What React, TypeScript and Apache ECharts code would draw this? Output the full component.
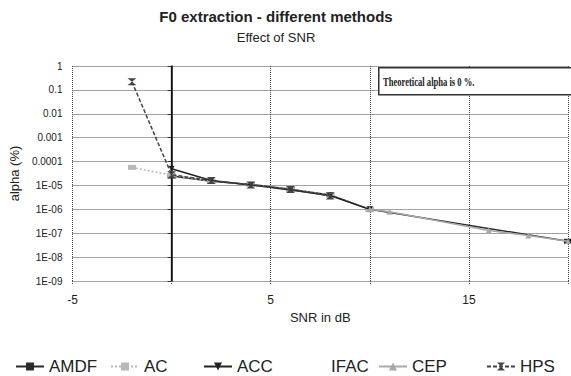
import React, { useEffect, useRef } from "react";
import * as echarts from "echarts";

const titleText = "F0 extraction - different methods";
const subtitleText = "Effect of SNR";
const xAxisName = "SNR in dB";
const yAxisName = "alpha (%)";
const noteText = "Theoretical alpha is 0 %.";

const seriesNames = ["AMDF", "AC", "ACC", "IFAC", "CEP", "HPS"];

const amdfSnr = [0, 2, 4, 6, 8, 10, 20];
const amdfAlpha = [2.5e-5, 1.5e-5, 1.1e-5, 7e-6, 4e-6, 1e-6, 4.6e-8];
const acSnr = [-2, 0, 2, 4, 6, 8, 10];
const acAlpha = [5.7e-5, 2.7e-5, 1.5e-5, 1.1e-5, 7e-6, 4e-6, 1e-6];
const accSnr = [0, 2, 4, 6, 8, 10];
const accAlpha = [5e-5, 1.6e-5, 1.05e-5, 6.5e-6, 3.8e-6, 1e-6];
const ifacSnr: number[] = [];
const ifacAlpha: number[] = [];
const cepSnr = [10, 11, 16, 18, 20];
const cepAlpha = [1e-6, 8e-7, 1.3e-7, 8e-8, 4.6e-8];
const hpsSnr = [-2, 0, 2, 4, 6, 8];
const hpsAlpha = [0.22, 2.8e-5, 1.6e-5, 1.05e-5, 6.8e-6, 3.6e-6];

const xTickLabels: Record<string, string> = { "-5": "-5", "5": "5", "15": "15" };
const yTickLabels = ["1E-09", "1E-08", "1E-07", "1E-06", "1E-05", "0.0001", "0.001", "0.01", "0.1", "1"];

const legendLefts = [15, 110, 203, 298, 378, 486];

const FONT = "'Liberation Sans', Arial, sans-serif";

function pairs(xs: number[], ys: number[]) {
  return xs.map((x, i) => [x, ys[i]]);
}

const hourglass = "path://M0,0 L10,0 L0,10 L10,10 Z";

export default function App() {
  const ref = useRef<HTMLDivElement>(null);
  useEffect(() => {
    document.body.style.margin = "0";
    if (!ref.current) return;
    const chart = echarts.init(ref.current, undefined, { renderer: "svg" });
    const seriesData = [
      pairs(amdfSnr, amdfAlpha),
      pairs(acSnr, acAlpha),
      pairs(accSnr, accAlpha),
      pairs(ifacSnr, ifacAlpha),
      pairs(cepSnr, cepAlpha),
      pairs(hpsSnr, hpsAlpha),
    ];
    const styles: any[] = [
      { color: "#2a2a2a", lineStyle: { width: 1.5, type: "solid" }, symbol: "rect", symbolSize: [8, 5] },
      { color: "#b8b8b8", lineStyle: { width: 1.5, type: [2, 2] }, symbol: "rect", symbolSize: [8, 5] },
      { color: "#222", lineStyle: { width: 1.5, type: "solid" }, symbol: "triangle", symbolRotate: 180, symbolSize: 6 },
      { color: "rgba(0,0,0,0)", lineStyle: { width: 0 }, symbol: "none", symbolSize: 0 },
      { color: "#a8a8a8", lineStyle: { width: 1.5, type: "solid" }, symbol: "triangle", symbolSize: 6 },
      { color: "#444", lineStyle: { width: 1.5, type: [4, 2] }, symbol: hourglass, symbolSize: [9, 7] },
    ];
    const series: any[] = seriesNames.map((name, i) => ({
      name,
      type: "line",
      data: seriesData[i],
      color: styles[i].color,
      lineStyle: { ...styles[i].lineStyle, color: styles[i].color },
      itemStyle: { color: styles[i].color },
      symbol: styles[i].symbol,
      symbolSize: styles[i].symbolSize,
      symbolRotate: styles[i].symbolRotate || 0,
      showSymbol: true,
      z: 3 + i,
    }));
    series[0].markLine = {
      silent: true,
      symbol: ["none", "none"],
      label: { show: false },
      lineStyle: { color: "#111", type: "solid", width: 1.3 },
      data: [{ xAxis: 0 }],
    };
    const legends = seriesNames.map((name, i) => ({
      data: [name],
      left: legendLefts[i],
      top: 358,
      itemWidth: 28,
      itemHeight: 10,
      padding: 0,
      textStyle: { fontSize: 17, color: "#222", fontFamily: FONT },
    }));
    chart.setOption({
      animation: false,
      backgroundColor: "#fff",
      textStyle: { fontFamily: FONT },
      title: {
        text: titleText,
        subtext: subtitleText,
        left: 276,
        textAlign: "center",
        top: 9,
        padding: 0,
        itemGap: 7,
        textStyle: { fontSize: 15, fontWeight: "bold", color: "#222", fontFamily: FONT },
        subtextStyle: { fontSize: 13, color: "#222", fontFamily: FONT },
      },
      legend: legends,
      grid: { left: 64, top: 66, width: 511, height: 215, containLabel: false },
      xAxis: {
        type: "value",
        min: -5,
        max: 20,
        interval: 5,
        name: xAxisName,
        nameLocation: "middle",
        nameGap: 28,
        nameTextStyle: { fontSize: 13, color: "#222", fontFamily: FONT },
        axisLine: { show: false },
        axisTick: { show: true, length: 4, lineStyle: { color: "#555", type: "dotted" } },
        axisLabel: {
          fontSize: 12,
          margin: 13,
          color: "#222",
          formatter: (v: number) => xTickLabels[String(v)] ?? "",
        },
        splitLine: { show: true, lineStyle: { color: "#444", type: "dotted", width: 1 } },
      },
      yAxis: {
        type: "log",
        logBase: 10,
        min: 1e-9,
        max: 1,
        splitNumber: 9,
        name: yAxisName,
        nameLocation: "middle",
        nameGap: 42,
        nameTextStyle: { fontSize: 13, color: "#222", fontFamily: FONT },
        axisLine: { show: true, lineStyle: { color: "#111", width: 1.5 } },
        axisTick: { show: true, length: 4, lineStyle: { color: "#333" } },
        axisLabel: {
          fontSize: 10,
          margin: 10,
          color: "#222",
          formatter: (v: number) => {
            const e = Math.round(Math.log10(v));
            return yTickLabels[e + 9] ?? "";
          },
        },
        splitLine: { show: true, lineStyle: { color: "#444", type: "dotted", width: 1 } },
      },
      graphic: [
        {
          type: "rect",
          left: 378,
          top: 67,
          shape: { width: 200, height: 27 },
          style: { fill: "#fff", stroke: "#333", lineWidth: 1.5 },
          z: 100,
        },
        {
          type: "text",
          x: 383,
          y: 81,
          scaleX: 0.66,
          style: {
            text: noteText,
            font: "bold 13px 'Liberation Serif', 'Times New Roman', serif",
            fill: "#222",
            verticalAlign: "middle",
          },
          z: 101,
        },
      ],
      series,
    });
    return () => chart.dispose();
  }, []);
  return <div ref={ref} style={{ width: 571, height: 376 }} />;
}
